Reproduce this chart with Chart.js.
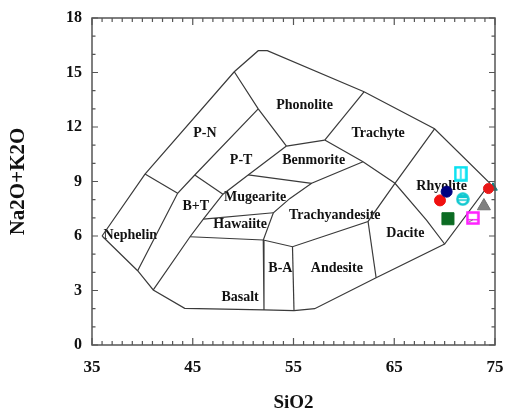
<!DOCTYPE html>
<html>
<head>
<meta charset="utf-8">
<script src="https://cdn.jsdelivr.net/npm/chart.js@4"></script>
<style>
html,body{margin:0;padding:0;background:#fff;}
</style>
</head>
<body>
<canvas id="tas" width="508" height="416"></canvas>
<script>
// TAS field boundaries (SiO2, Na2O+K2O)
const outline = [[36,6],[40.26,9.41],[49.12,15.04],[51.5,16.2],[52.4,16.2],[62,13.94],[69,11.9],[74.5,8.9],[70,5.56],[63.2,3.7],[57.1,2],[55.05,1.89],[52.07,1.93],[44.2,2.02],[41.08,3.03],[39.53,4.09],[36,6]];
const btRight = [[54.3,10.95],[50.5,9.36],[48,8.3],[46.05,6.93],[44.73,5.96],[41.08,3.03]];
const pnLower = [[51.5,13],[45.2,9.36],[43.5,8.35],[39.53,4.09]];
const phonoLeft = [[49.12,15.04],[51.5,13],[54.3,10.95]];
const nephTop = [[40.26,9.41],[43.5,8.35]];
const btTop = [[45.2,9.36],[48,8.3]];
const hawaiiteTop = [[46.05,6.93],[53,7.28]];
const mugeariteTop = [[50.5,9.36],[56.8,8.9]];
const trachyandLeft = [[61.9,10.09],[56.8,8.9],[54.65,8.07],[53,7.28],[52,5.78],[52.07,1.93]];
const basaltTop = [[44.73,5.96],[52,5.78],[54.9,5.41],[62.4,6.8],[65.07,8.9],[69,11.9]];
const baRight = [[54.9,5.41],[55.05,1.89]];
const andesiteRight = [[62.4,6.8],[63.2,3.7]];
const benmoriteTop = [[54.3,10.95],[58.1,11.28]];
const trachyteLeft = [[58.1,11.28],[62,13.94]];
const trachyteLower = [[58.1,11.28],[61.9,10.09],[65.07,8.9],[68.2,6.88],[70,5.56]];

const boundaries = [outline,btRight,pnLower,phonoLeft,nephTop,btTop,hawaiiteTop,mugeariteTop,trachyandLeft,basaltTop,baRight,andesiteRight,benmoriteTop,trachyteLeft,trachyteLower];

// field names
const rockNames = ['Phonolite','P-N','Trachyte','P-T','Benmorite','Mugearite','B+T','Rhyolite','Hawaiite','Trachyandesite','Nephelin','Dacite','B-A','Andesite','Basalt'];
const rockX = [56.1,46.2,63.4,49.8,57.0,51.2,45.3,69.7,49.7,59.1,38.8,66.1,53.7,59.3,49.7];
const rockY = [13.2,11.67,11.67,10.18,10.18,8.15,7.65,8.75,6.66,7.15,6.05,6.16,4.24,4.24,2.64];

// samples
const sampleSiO2 = [71.6,70.2,69.54,71.8,74.35,74.8,73.9,70.33,72.8];
const sampleAlk = [9.43,8.44,7.96,8.03,8.61,8.66,7.65,6.95,6.99];

const serif = '"Liberation Serif","Times New Roman",serif';

function marker(w, h, draw) {
  const c = document.createElement('canvas');
  c.width = w; c.height = h;
  draw(c.getContext('2d'), w, h);
  return c;
}
const cyanRect = marker(14, 16, (g, w, h) => {
  g.fillStyle = '#fff'; g.fillRect(1, 1, w - 2, h - 2);
  g.strokeStyle = '#00e0f0'; g.lineWidth = 2.5; g.strokeRect(1.5, 1.5, w - 3, h - 3);
  g.lineWidth = 1.5; g.beginPath(); g.moveTo(w / 2, 3); g.lineTo(w / 2, h - 3); g.stroke();
});
const cyanCircle = marker(14, 14, (g, w, h) => {
  g.fillStyle = '#fff'; g.strokeStyle = '#10c8d0'; g.lineWidth = 2.5;
  g.beginPath(); g.arc(w / 2, h / 2, 5.5, 0, Math.PI * 2); g.fill(); g.stroke();
  g.lineWidth = 1.5; g.beginPath(); g.moveTo(2, h / 2 + 1); g.lineTo(w - 2, h / 2 + 1); g.stroke();
  g.fillStyle = '#10c8d0'; g.fillRect(3, 3, w - 6, 3);
});
const magentaRect = marker(14, 14, (g, w, h) => {
  g.fillStyle = '#fff'; g.fillRect(1, 1, w - 2, h - 2);
  g.strokeStyle = '#ff20ff'; g.lineWidth = 2.5; g.strokeRect(1.5, 1.5, w - 3, h - 3);
  g.lineWidth = 1.5; g.beginPath(); g.moveTo(2, h * 0.62); g.lineTo(w - 2, h * 0.62); g.stroke();
  g.strokeStyle = '#777'; g.lineWidth = 1; g.beginPath(); g.moveTo(3, h - 3); g.lineTo(w / 2, h * 0.62); g.stroke();
});

const sampleStyles = [
  {pointStyle: cyanRect},
  {pointStyle: 'circle', pointRadius: 5.5, pointBackgroundColor: '#000080', pointBorderColor: '#000080'},
  {pointStyle: 'circle', pointRadius: 5.5, pointBackgroundColor: '#f01010', pointBorderColor: '#f01010'},
  {pointStyle: cyanCircle},
  {pointStyle: 'circle', pointRadius: 5, pointBackgroundColor: '#e81818', pointBorderColor: '#e81818'},
  {pointStyle: 'triangle', pointRadius: 5, pointBackgroundColor: '#108080', pointBorderColor: '#108080'},
  {pointStyle: 'triangle', pointRadius: 7.5, pointBackgroundColor: '#808080', pointBorderColor: '#707070'},
  {pointStyle: 'rect', pointRadius: 8.5, pointBackgroundColor: '#0b6b22', pointBorderColor: '#0b6b22'},
  {pointStyle: magentaRect}
];

const datasets = [];
sampleSiO2.forEach((x, i) => {
  datasets.push(Object.assign({
    data: [{x: x, y: sampleAlk[i]}],
    order: 0,
    clip: false
  }, sampleStyles[i]));
});
boundaries.forEach(b => {
  datasets.push({
    data: b.map(p => ({x: p[0], y: p[1]})),
    showLine: true,
    borderColor: '#3a3a3a',
    borderWidth: 1.2,
    pointRadius: 0,
    order: 1
  });
});

const tasDecor = {
  id: 'tasDecor',
  beforeDatasetsDraw(chart) {
    const g = chart.ctx, xs = chart.scales.x, ys = chart.scales.y;
    g.save();
    g.fillStyle = '#111';
    g.font = 'bold 14px ' + serif;
    g.textAlign = 'center';
    g.textBaseline = 'middle';
    rockNames.forEach((n, i) => {
      g.fillText(n, xs.getPixelForValue(rockX[i]), ys.getPixelForValue(rockY[i]));
    });
    g.restore();
  },
  afterDraw(chart) {
    const g = chart.ctx, a = chart.chartArea, xs = chart.scales.x, ys = chart.scales.y;
    g.save();
    g.strokeStyle = '#555';
    g.lineWidth = 1.5;
    g.strokeRect(a.left, a.top, a.right - a.left, a.bottom - a.top);
    g.lineWidth = 1.2;
    g.beginPath();
    xs.ticks.forEach(t => {
      const px = xs.getPixelForValue(t.value);
      const len = ((t.value - 35) % 10 === 0) ? 7 : 4;
      g.moveTo(px, a.bottom); g.lineTo(px, a.bottom - len);
      g.moveTo(px, a.top); g.lineTo(px, a.top + len);
    });
    ys.ticks.forEach(t => {
      const py = ys.getPixelForValue(t.value);
      const len = (t.value % 3 === 0) ? 6 : 3.5;
      g.moveTo(a.left, py); g.lineTo(a.left + len, py);
      g.moveTo(a.right, py); g.lineTo(a.right - len, py);
    });
    g.stroke();
    g.restore();
  }
};

new Chart(document.getElementById('tas'), {
  type: 'scatter',
  data: {datasets: datasets},
  options: {
    responsive: false,
    animation: false,
    layout: {padding: {top: 18, right: 13, left: 0, bottom: 0}},
    plugins: {legend: {display: false}, tooltip: {enabled: false}},
    scales: {
      x: {
        type: 'linear', min: 35, max: 75,
        afterFit(s) { s.height = 71; s.paddingLeft = 0; s.paddingRight = 0; },
        grid: {display: false, drawTicks: false},
        border: {display: false},
        ticks: {
          stepSize: 1, autoSkip: false, maxRotation: 0, padding: 12,
          color: '#111', font: {family: serif, weight: 'bold', size: 17},
          callback: v => ((v - 35) % 10 === 0 ? v : '')
        },
        title: {display: true, text: 'SiO2', color: '#111', padding: {top: 0, bottom: 2},
          font: {family: serif, weight: 'bold', size: 19}}
      },
      y: {
        type: 'linear', min: 0, max: 18,
        afterFit(s) { s.width = 92; s.paddingTop = 0; s.paddingBottom = 0; },
        grid: {display: false, drawTicks: false},
        border: {display: false},
        ticks: {
          stepSize: 1, autoSkip: false, padding: 10,
          color: '#111', font: {family: serif, weight: 'bold', size: 16},
          callback: v => (v % 3 === 0 ? v : '')
        },
        title: {display: true, text: 'Na2O+K2O', color: '#111', padding: {top: 6, bottom: 0},
          font: {family: serif, weight: 'bold', size: 21}}
      }
    }
  },
  plugins: [tasDecor]
});
</script>
</body>
</html>
